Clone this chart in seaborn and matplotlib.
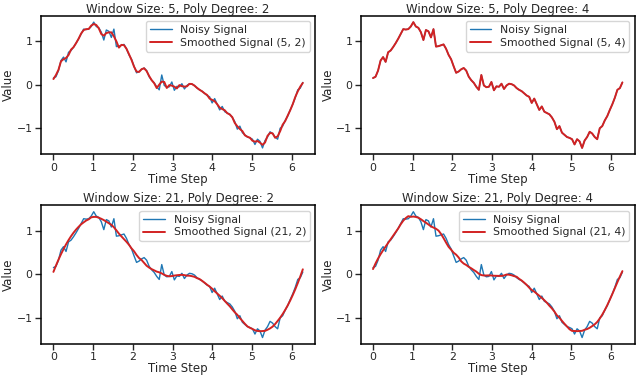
import matplotlib
matplotlib.use("Agg")
import matplotlib.pyplot as plt
import numpy as np
import pandas as pd
import seaborn as sns

# noisy signal, 100 samples over [0, 2*pi]
time_start = 0.0
time_end = 6.283
noisy_values = [
    0.15, 0.18, 0.32, 0.55, 0.63, 0.52, 0.74, 0.78, 0.86, 0.95,
    1.05, 1.16, 1.27, 1.26, 1.27, 1.33, 1.43, 1.33, 1.30, 1.20,
    1.02, 1.25, 1.22, 1.08, 1.27, 0.87, 0.88, 0.90, 0.92, 0.82,
    0.68, 0.58, 0.42, 0.27, 0.30, 0.35, 0.38, 0.32, 0.18, 0.10,
    0.04, -0.05, -0.12, 0.22, -0.02, -0.06, -0.05, 0.06, -0.13, -0.04,
    -0.05, 0.02, -0.10, -0.02, 0.02, 0.01, -0.02, -0.08, -0.12, -0.15,
    -0.20, -0.25, -0.28, -0.42, -0.32, -0.45, -0.58, -0.50, -0.62, -0.65,
    -0.68, -0.75, -0.85, -1.02, -0.95, -1.10, -1.15, -1.20, -1.22, -1.25,
    -1.37, -1.25, -1.30, -1.45, -1.28, -1.20, -1.08, -1.12, -1.20, -1.25,
    -1.00, -0.95, -0.82, -0.72, -0.58, -0.45, -0.30, -0.12, -0.08, 0.05,
]
window_sizes = [5, 21]
poly_degrees = [2, 4]


def savgol(y, window, order):
    # Savitzky-Golay smoothing, edges fitted like scipy's mode="interp"
    y = np.asarray(y, dtype=float)
    half = window // 2
    offsets = np.arange(-half, half + 1)
    vander = np.vander(offsets, order + 1, increasing=True)
    coeffs = np.linalg.pinv(vander)[0]
    out = np.convolve(y, coeffs[::-1], mode="same")
    idx = np.arange(window)
    head = np.polyfit(idx, y[:window], order)
    tail = np.polyfit(idx, y[-window:], order)
    out[:half] = np.polyval(head, idx[:half])
    out[-half:] = np.polyval(tail, idx[window - half:])
    return out


def main() -> None:
    sns.set_theme(style="ticks")
    plt.rcParams["font.family"] = ["DejaVu Sans"]

    time = np.linspace(time_start, time_end, len(noisy_values))

    fig, axes = plt.subplots(2, 2, figsize=(6.4, 3.77), dpi=100)
    fig.subplots_adjust(left=0.064, right=0.992, top=0.958, bottom=0.088,
                        wspace=0.165, hspace=0.37)

    for r, window in enumerate(window_sizes):
        for c, order in enumerate(poly_degrees):
            ax = axes[r, c]
            smooth = savgol(noisy_values, window, order)
            df = pd.DataFrame({"t": time, "noisy": noisy_values, "smooth": smooth})
            sns.lineplot(data=df, x="t", y="noisy", ax=ax, color="#1f77b4",
                         linewidth=1.0, label="Noisy Signal")
            sns.lineplot(data=df, x="t", y="smooth", ax=ax, color="#d22222",
                         linewidth=1.4, label=f"Smoothed Signal ({window}, {order})")
            ax.set_title(f"Window Size: {window}, Poly Degree: {order}",
                         fontsize=8.5, pad=2)
            ax.set_xlabel("Time Step", fontsize=8.5, labelpad=0)
            ax.set_ylabel("Value", fontsize=8.5, labelpad=1)
            ax.tick_params(labelsize=7.8, length=4.5, width=1, pad=1.5)
            for spine in ax.spines.values():
                spine.set_visible(True)
                spine.set_linewidth(1.1)
                spine.set_color("black")
            ax.legend(loc="upper right", fontsize=7.8, frameon=True,
                      borderpad=0.35, labelspacing=0.25, handlelength=2.0)

    fig.savefig("out.png", dpi=100)
    plt.close(fig)


if __name__ == "__main__":
    main()
